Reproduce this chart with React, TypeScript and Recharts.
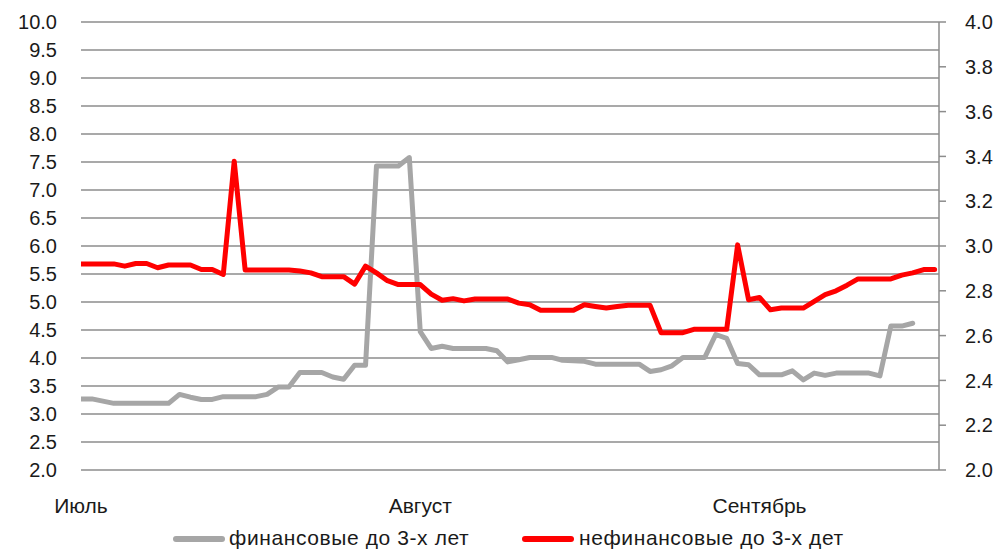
import { LineChart, Line, XAxis, YAxis, CartesianGrid } from 'recharts';

// daily observations, day 0 = 1 July
const months = ['Июль', 'Август', 'Сентябрь'];
const monthStartDays = [0, 31, 62];

// финансовые до 3-х лет (left axis)
const financial = [
  3.27, 3.27, 3.23, 3.19, 3.19, 3.19, 3.19, 3.19, 3.19, 3.35,
  3.30, 3.26, 3.26, 3.31, 3.31, 3.31, 3.31, 3.35, 3.48, 3.48,
  3.74, 3.74, 3.74, 3.66, 3.62, 3.87, 3.87, 7.43, 7.43, 7.43,
  7.58, 4.47, 4.17, 4.21, 4.17, 4.17, 4.17, 4.17, 4.13, 3.93,
  3.97, 4.01, 4.01, 4.01, 3.96, 3.95, 3.94, 3.89, 3.89, 3.89,
  3.89, 3.89, 3.76, 3.79, 3.86, 4.01, 4.01, 4.01, 4.42, 4.35,
  3.90, 3.88, 3.70, 3.70, 3.70, 3.77, 3.61, 3.73, 3.69, 3.73,
  3.73, 3.73, 3.73, 3.68, 4.57, 4.57, 4.62,
];

// нефинансовые до 3-х дет (right axis)
const nonFinancial = [
  2.92, 2.92, 2.92, 2.92, 2.91, 2.922, 2.922, 2.903, 2.915, 2.915,
  2.915, 2.895, 2.895, 2.873, 3.378, 2.893, 2.893, 2.893, 2.893, 2.893,
  2.888, 2.88, 2.863, 2.863, 2.863, 2.83, 2.91, 2.88, 2.845, 2.828,
  2.828, 2.828, 2.785, 2.758, 2.765, 2.755, 2.763, 2.763, 2.763, 2.763,
  2.745, 2.738, 2.713, 2.713, 2.713, 2.713, 2.738, 2.73, 2.723, 2.73,
  2.735, 2.735, 2.735, 2.613, 2.613, 2.613, 2.628, 2.628, 2.628, 2.628,
  3.005, 2.76, 2.77, 2.715, 2.723, 2.723, 2.723, 2.753, 2.783, 2.80,
  2.825, 2.853, 2.853, 2.853, 2.853, 2.87, 2.88, 2.895, 2.895,
];

const leftTicks = [2, 2.5, 3, 3.5, 4, 4.5, 5, 5.5, 6, 6.5, 7, 7.5, 8, 8.5, 9, 9.5, 10];
const rightTicks = [2, 2.2, 2.4, 2.6, 2.8, 3, 3.2, 3.4, 3.6, 3.8, 4];

const data = nonFinancial.map((v, day) => ({
  day,
  fin: day < financial.length ? financial[day] : null,
  nonfin: v,
}));

const font = '"Liberation Sans", Arial, sans-serif';
const textColor = '#1a1a1a';
const gridColor = '#8c8c8c';

function ChartLegend() {
  const label = { position: 'absolute' as const, top: 0, whiteSpace: 'nowrap' as const, letterSpacing: 0.6 };
  return (
    <div style={{ position: 'absolute', left: 0, top: 526, width: 996, height: 25, fontFamily: font, fontSize: 21, lineHeight: '24px', color: textColor }}>
      <span style={{ position: 'absolute', left: 173, top: 10, width: 52, height: 6, borderRadius: 3, background: '#a6a6a6' }} />
      <span style={{ ...label, left: 229 }}>финансовые до 3-х лет</span>
      <span style={{ position: 'absolute', left: 522, top: 10, width: 52, height: 6, borderRadius: 3, background: '#ff0000' }} />
      <span style={{ ...label, left: 579 }}>нефинансовые до 3-х дет</span>
    </div>
  );
}

export default function App() {
  return (
    <div style={{ position: 'absolute', left: 0, top: 0, width: 996, height: 551, overflow: 'hidden', background: '#fff' }}>
      <LineChart width={996} height={551} data={data} margin={{ top: 22, right: 0, bottom: 0, left: 0 }}>
        <CartesianGrid vertical={false} yAxisId="left" stroke={gridColor} strokeWidth={1.5} />
        <XAxis
          dataKey="day"
          type="number"
          domain={[0, 78.4]}
          ticks={monthStartDays}
          tickFormatter={(d: number) => months[monthStartDays.indexOf(d)]}
          axisLine={false}
          tickLine={false}
          tickSize={0}
          tickMargin={28}
          height={81}
          tick={{ fill: textColor, fontSize: 21, fontFamily: font }}
          allowDataOverflow
        />
        <YAxis
          yAxisId="left"
          domain={[2, 10]}
          ticks={leftTicks}
          tickFormatter={(v: number) => v.toFixed(1)}
          axisLine={false}
          tickLine={false}
          tickSize={0}
          tickMargin={24}
          width={81}
          interval={0}
          tick={{ fill: textColor, fontSize: 20, fontFamily: font }}
        />
        <YAxis
          yAxisId="right"
          orientation="right"
          domain={[2, 4]}
          ticks={rightTicks}
          tickFormatter={(v: number) => v.toFixed(1)}
          axisLine={{ stroke: gridColor, strokeWidth: 1.5 }}
          tickLine={{ stroke: gridColor, strokeWidth: 1.5 }}
          tickSize={7}
          tickMargin={19}
          width={57}
          interval={0}
          tick={{ fill: textColor, fontSize: 20, fontFamily: font, textAnchor: 'start' }}
        />
        <Line
          yAxisId="left"
          type="linear"
          dataKey="fin"
          stroke="#a6a6a6"
          strokeWidth={5}
          strokeLinejoin="round"
          strokeLinecap="round"
          dot={false}
          connectNulls={false}
          isAnimationActive={false}
        />
        <Line
          yAxisId="right"
          type="linear"
          dataKey="nonfin"
          stroke="#ff0000"
          strokeWidth={5}
          strokeLinejoin="round"
          strokeLinecap="round"
          dot={false}
          isAnimationActive={false}
        />
      </LineChart>
      <ChartLegend />
    </div>
  );
}
